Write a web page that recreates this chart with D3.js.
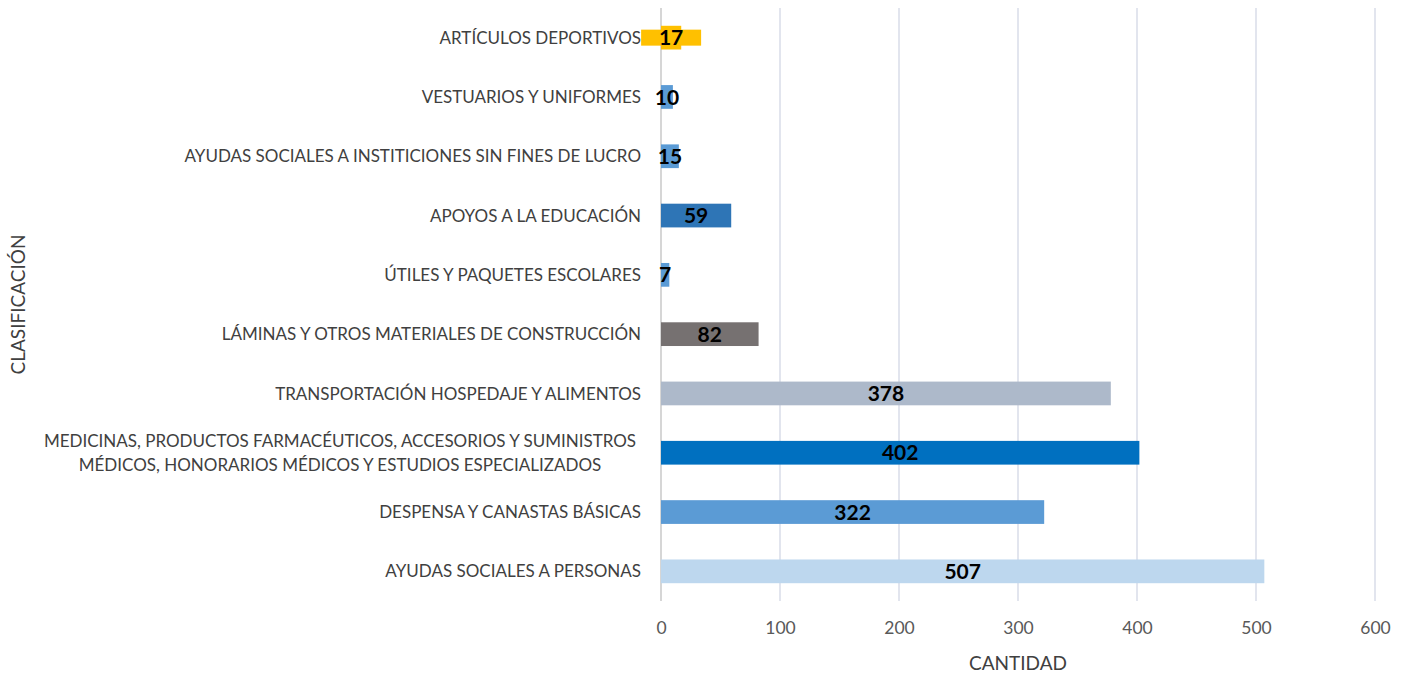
<!DOCTYPE html>
<html><head><meta charset="utf-8">
<script src="https://cdn.jsdelivr.net/npm/d3@7"></script>
<style>body{margin:0;background:#fff}svg{display:block}</style>
</head><body>
<svg id="c" width="1408" height="675"></svg>
<script>
const categories = [
  ["ARTÍCULOS DEPORTIVOS"],
  ["VESTUARIOS Y UNIFORMES"],
  ["AYUDAS SOCIALES A INSTITICIONES SIN FINES DE LUCRO"],
  ["APOYOS A LA EDUCACIÓN"],
  ["ÚTILES Y PAQUETES ESCOLARES"],
  ["LÁMINAS Y OTROS MATERIALES DE CONSTRUCCIÓN"],
  ["TRANSPORTACIÓN HOSPEDAJE Y ALIMENTOS"],
  ["MEDICINAS, PRODUCTOS FARMACÉUTICOS, ACCESORIOS Y SUMINISTROS", "MÉDICOS, HONORARIOS MÉDICOS Y ESTUDIOS ESPECIALIZADOS"],
  ["DESPENSA Y CANASTAS BÁSICAS"],
  ["AYUDAS SOCIALES A PERSONAS"]
];
const values = [17, 10, 15, 59, 7, 82, 378, 402, 322, 507];
const colors = ["#FFC000", "#5B9BD5", "#5B9BD5", "#2E75B6", "#5B9BD5", "#767171", "#ADB9CA", "#0070C0", "#5B9BD5", "#BDD7EE"];
const xTicks = [0, 100, 200, 300, 400, 500, 600];
const xTitle = "CANTIDAD";
const yTitle = "CLASIFICACIÓN";
const highlighted = [0]; // label with filled background

const svg = d3.select("#c");
const L = 661, R = 1375, T = 8, B = 601;
const font = "Lato, 'Open Sans', sans-serif";
const x = d3.scaleLinear().domain([0, 600]).range([L, R]);
const y = d3.scaleBand().domain(d3.range(values.length)).range([T, B]).paddingInner(0.6).paddingOuter(0.3);

// gridlines
svg.append("g").selectAll("line").data(xTicks).join("line")
  .attr("x1", d => x(d)).attr("x2", d => x(d))
  .attr("y1", T).attr("y2", B)
  .attr("stroke", d => d === 0 ? "#C8C8C8" : "#D9DDE8").attr("stroke-width", 1.5);

// bars
svg.append("g").selectAll("rect").data(values).join("rect")
  .attr("x", x(0)).attr("y", (d, i) => y(i))
  .attr("width", d => x(d) - x(0)).attr("height", y.bandwidth())
  .attr("fill", (d, i) => colors[i]);

// label backgrounds
highlighted.forEach(i => {
  const cx = (x(0) + x(values[i])) / 2;
  svg.append("rect").attr("x", cx - 30).attr("y", y(i) + y.bandwidth() / 2 - 8)
    .attr("width", 60).attr("height", 16).attr("fill", colors[i]);
});

// data labels
svg.append("g").selectAll("text").data(values).join("text")
  .attr("x", d => (x(0) + x(d)) / 2)
  .attr("y", (d, i) => y(i) + y.bandwidth() / 2)
  .attr("dy", "0.36em").attr("text-anchor", "middle")
  .attr("font-family", font).attr("font-weight", "bold").attr("font-size", 21)
  .attr("fill", "#000").text(d => d);

// category labels
const cat = svg.append("g");
categories.forEach((lines, i) => {
  const cy = y(i) + y.bandwidth() / 2;
  const t = cat.append("text").attr("text-anchor", lines.length > 1 ? "middle" : "end")
    .attr("font-family", font).attr("font-size", 17).attr("fill", "#404040");
  lines.forEach((ln, k) => {
    t.append("tspan").attr("x", lines.length > 1 ? 340 : 641)
      .attr("y", cy + (k - (lines.length - 1) / 2) * 24)
      .attr("dy", "0.36em").text(ln);
  });
});

// x axis tick labels
const xa = svg.append("g").attr("transform", `translate(0,${B})`)
  .call(d3.axisBottom(x).tickValues(xTicks).tickSize(0).tickPadding(21));
xa.select(".domain").remove();
xa.selectAll("text").attr("font-family", font).attr("font-size", 17.5).attr("fill", "#595959");

// axis titles
svg.append("text").attr("x", (L + R) / 2).attr("y", 663).attr("dy", "0.36em")
  .attr("text-anchor", "middle").attr("font-family", font).attr("font-size", 19)
  .attr("fill", "#404040").text(xTitle);
svg.append("text").attr("transform", `translate(18,${(T + B) / 2}) rotate(-90)`)
  .attr("dy", "0.36em").attr("text-anchor", "middle").attr("font-family", font)
  .attr("font-size", 19).attr("fill", "#404040").text(yTitle);
</script>
</body></html>
